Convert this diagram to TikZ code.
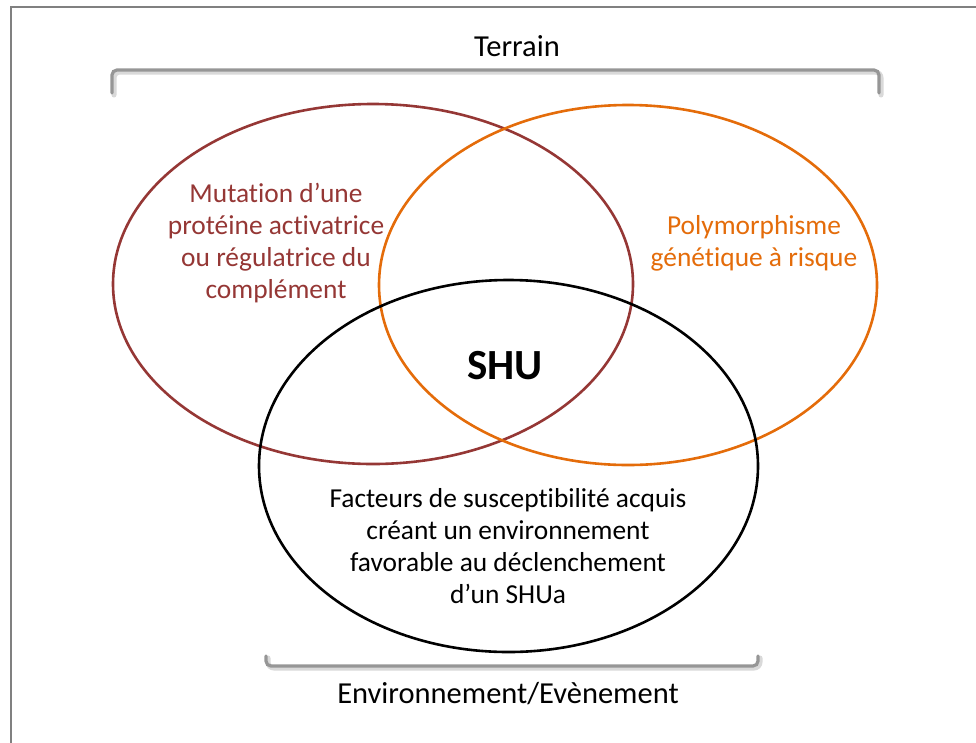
\documentclass[tikz,border=0pt]{standalone}
\usepackage{fontspec}
\setmainfont{Carlito}[Ligatures=NoCommon]
\usetikzlibrary{shapes.geometric}
\definecolor{mutred}{RGB}{149,55,53}
\definecolor{polyorange}{RGB}{228,108,10}
\definecolor{framegray}{RGB}{128,128,128}
\definecolor{bracketgray}{RGB}{150,150,150}
\begin{document}
\begin{tikzpicture}[x=1pt,y=-1pt,
  setcircle/.style={ellipse, draw, line width=2.6pt, inner sep=0pt},
  bodytext/.style={align=center, font=\fontsize{27.4}{32}\selectfont, inner sep=0pt},
  labeltext/.style={font=\fontsize{30.5}{36}\selectfont, inner sep=0pt},
  bracketline/.style={draw=bracketgray, line width=3.2pt, rounded corners=5pt, line cap=round},
  bracketshadow/.style={draw=black!15, line width=5pt, rounded corners=6pt, line cap=round}]
\useasboundingbox (0,0) rectangle (976,742);
\clip (0,0) rectangle (976,742);

% outer frame
\draw[framegray, line width=2pt] (11,7) rectangle (1000,770);

% top bracket (genetic background)
\coordinate (tla) at (112,93);
\coordinate (tlb) at (112,70);
\coordinate (trb) at (879,70);
\coordinate (tra) at (879,93);
\coordinate (tls) at (114,95);
\coordinate (tlt) at (114,72);
\coordinate (trt) at (881,72);
\coordinate (trs) at (881,95);
\draw[bracketshadow] (tls) -- (tlt) -- (trt) -- (trs);
\draw[bracketline] (tla) -- (tlb) -- (trb) -- (tra);

% bottom bracket (environment)
\coordinate (bla) at (266,656);
\coordinate (blb) at (266,666);
\coordinate (brb) at (758,666);
\coordinate (bra) at (758,656);
\coordinate (bls) at (268,658);
\coordinate (blt) at (268,668);
\coordinate (brt) at (760,668);
\coordinate (brs) at (760,658);
\draw[bracketshadow] (bls) -- (blt) -- (brt) -- (brs);
\draw[bracketline] (bla) -- (blb) -- (brb) -- (bra);

% the three sets
\node[setcircle, draw=mutred, minimum width=520pt, minimum height=360pt] (mut) at (373,284) {};
\node[setcircle, draw=polyorange, minimum width=498pt, minimum height=360pt] (poly) at (628,285) {};
\node[setcircle, draw=black, minimum width=499pt, minimum height=372pt] (env) at (508.5,466) {};

% labels of the brackets
\node[labeltext, anchor=base] (terrain) at (517,56) {Terrain};
\node[labeltext, anchor=base] (envlabel) at (508,703) {Environnement/Evènement};

% texts inside the sets (anchored on the baseline of the last line)
\node[bodytext, text=mutred, anchor=base] (muttext) at (276,298)
  {Mutation d’une\\protéine activatrice\\ou régulatrice du\\complément};
\node[bodytext, text=polyorange, anchor=base] (polytext) at (754,266)
  {Polymorphisme\\génétique à risque};
\node[bodytext, anchor=base] (envtext) at (508,603)
  {Facteurs de susceptibilité acquis\\créant un environnement\\favorable au déclenchement\\d’un SHUa};
\node[inner sep=0pt, anchor=base, font=\fontsize{43}{50}\selectfont\bfseries] (shu) at (505,379) {SHU};
\end{tikzpicture}
\end{document}
